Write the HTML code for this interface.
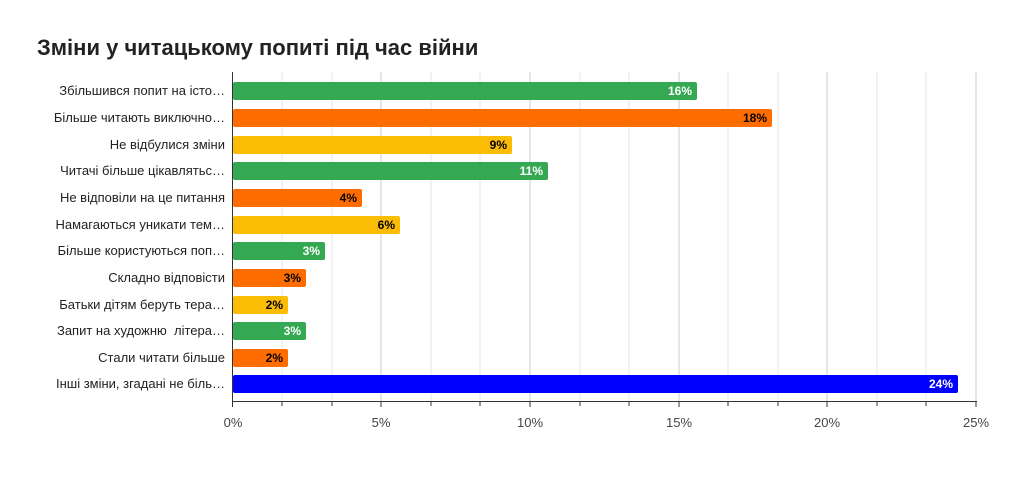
<!DOCTYPE html><html><head><meta charset="utf-8"><style>
body{margin:0;background:#fff;font-family:"Liberation Sans",sans-serif}
</style></head><body>
<svg width="1009" height="495" xmlns="http://www.w3.org/2000/svg" font-family="Liberation Sans, sans-serif">
<rect width="1009" height="495" fill="#fff"/>
<text x="37" y="55" font-size="22" font-weight="bold" fill="#222">Зміни у читацькому попиті під час війни</text>
<g stroke="#e6e6e6" stroke-width="1">
<line x1="282" y1="72" x2="282" y2="401"/><line x1="332" y1="72" x2="332" y2="401"/>
<line x1="431" y1="72" x2="431" y2="401"/><line x1="480" y1="72" x2="480" y2="401"/>
<line x1="580" y1="72" x2="580" y2="401"/><line x1="629" y1="72" x2="629" y2="401"/>
<line x1="728" y1="72" x2="728" y2="401"/><line x1="778" y1="72" x2="778" y2="401"/>
<line x1="877" y1="72" x2="877" y2="401"/><line x1="926" y1="72" x2="926" y2="401"/>
</g>
<g stroke="#ccc" stroke-width="1">
<line x1="381" y1="72" x2="381" y2="401"/><line x1="530" y1="72" x2="530" y2="401"/>
<line x1="679" y1="72" x2="679" y2="401"/><line x1="827" y1="72" x2="827" y2="401"/>
<line x1="976" y1="72" x2="976" y2="401"/>
</g>
<g>
<rect x="233" y="82" width="464" height="18" rx="2" fill="#34a853"/>
<rect x="233" y="109" width="539" height="18" rx="2" fill="#ff6d01"/>
<rect x="233" y="136" width="279" height="18" rx="2" fill="#fbbc04"/>
<rect x="233" y="162" width="315" height="18" rx="2" fill="#34a853"/>
<rect x="233" y="189" width="129" height="18" rx="2" fill="#ff6d01"/>
<rect x="233" y="216" width="167" height="18" rx="2" fill="#fbbc04"/>
<rect x="233" y="242" width="92" height="18" rx="2" fill="#34a853"/>
<rect x="233" y="269" width="73" height="18" rx="2" fill="#ff6d01"/>
<rect x="233" y="296" width="55" height="18" rx="2" fill="#fbbc04"/>
<rect x="233" y="322" width="73" height="18" rx="2" fill="#34a853"/>
<rect x="233" y="349" width="55" height="18" rx="2" fill="#ff6d01"/>
<rect x="233" y="375" width="725" height="18" rx="2" fill="#0000ff"/>
</g>
<g font-size="12" font-weight="bold" text-anchor="end">
<text x="692" y="95" fill="#fff">16%</text>
<text x="767" y="122" fill="#000">18%</text>
<text x="507" y="149" fill="#000">9%</text>
<text x="543" y="175" fill="#fff">11%</text>
<text x="357" y="202" fill="#000">4%</text>
<text x="395" y="229" fill="#000">6%</text>
<text x="320" y="255" fill="#fff">3%</text>
<text x="301" y="282" fill="#000">3%</text>
<text x="283" y="309" fill="#000">2%</text>
<text x="301" y="335" fill="#fff">3%</text>
<text x="283" y="362" fill="#000">2%</text>
<text x="953" y="388" fill="#fff">24%</text>
</g>
<g font-size="13" fill="#222" text-anchor="end">
<text x="225" y="95">Збільшився попит на істо…</text>
<text x="225" y="122">Більше читають виключно…</text>
<text x="225" y="149">Не відбулися зміни</text>
<text x="225" y="175">Читачі більше цікавлятьс…</text>
<text x="225" y="202">Не відповіли на це питання</text>
<text x="225" y="229">Намагаються уникати тем…</text>
<text x="225" y="255">Більше користуються поп…</text>
<text x="225" y="282">Складно відповісти</text>
<text x="225" y="309">Батьки дітям беруть тера…</text>
<text x="225" y="335">Запит на художню&#160; літера…</text>
<text x="225" y="362">Стали читати більше</text>
<text x="225" y="388">Інші зміни, згадані не біль…</text>
</g>
<line x1="232.5" y1="72" x2="232.5" y2="401" stroke="#333"/>
<line x1="232" y1="401.5" x2="977" y2="401.5" stroke="#333"/>
<g stroke="#333">
<line x1="232.5" y1="401" x2="232.5" y2="407"/><line x1="282" y1="401" x2="282" y2="406"/><line x1="332" y1="401" x2="332" y2="406"/>
<line x1="381" y1="401" x2="381" y2="407"/><line x1="431" y1="401" x2="431" y2="406"/><line x1="480" y1="401" x2="480" y2="406"/>
<line x1="530" y1="401" x2="530" y2="407"/><line x1="580" y1="401" x2="580" y2="406"/><line x1="629" y1="401" x2="629" y2="406"/>
<line x1="679" y1="401" x2="679" y2="407"/><line x1="728" y1="401" x2="728" y2="406"/><line x1="778" y1="401" x2="778" y2="406"/>
<line x1="827" y1="401" x2="827" y2="407"/><line x1="877" y1="401" x2="877" y2="406"/><line x1="926" y1="401" x2="926" y2="406"/>
<line x1="976" y1="401" x2="976" y2="407"/>
</g>
<g font-size="13" fill="#444" text-anchor="middle">
<text x="233" y="427">0%</text><text x="381" y="427">5%</text><text x="530" y="427">10%</text>
<text x="679" y="427">15%</text><text x="827" y="427">20%</text><text x="976" y="427">25%</text>
</g>
</svg>
</body></html>
